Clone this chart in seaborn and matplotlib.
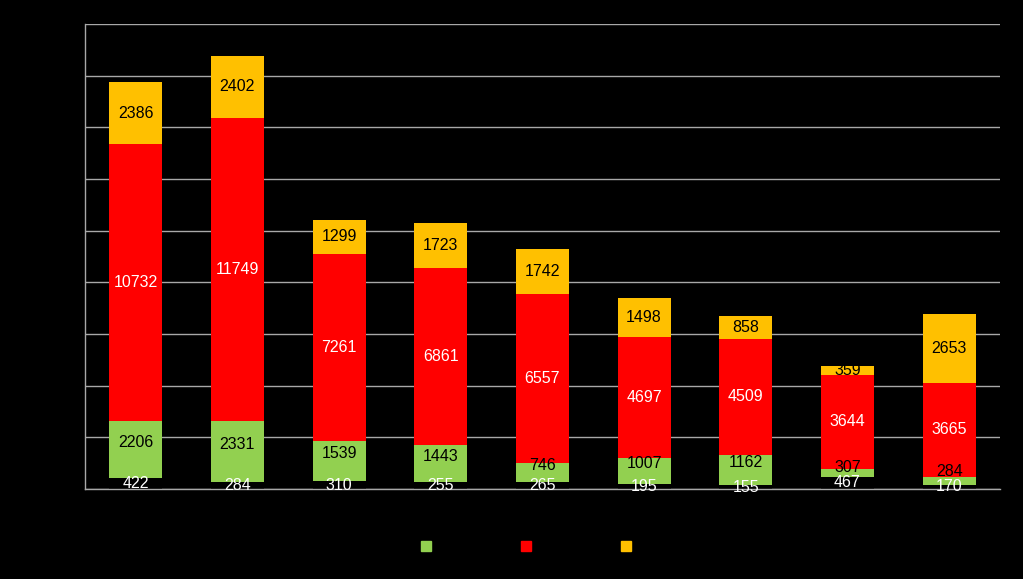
import numpy as np
import pandas as pd
import matplotlib
matplotlib.use("Agg")
import matplotlib.pyplot as plt
import seaborn as sns
from matplotlib.lines import Line2D

categories = ["1", "2", "3", "4", "5", "6", "7", "8", "9"]
base = [422, 284, 310, 255, 265, 195, 155, 467, 170]
green = [2206, 2331, 1539, 1443, 746, 1007, 1162, 307, 284]
red = [10732, 11749, 7261, 6861, 6557, 4697, 4509, 3644, 3665]
orange = [2386, 2402, 1299, 1723, 1742, 1498, 858, 359, 2653]

df = pd.DataFrame({"cat": categories, "base": base, "green": green,
                   "red": red, "orange": orange})
df["c_base"] = df["base"]
df["c_green"] = df["c_base"] + df["green"]
df["c_red"] = df["c_green"] + df["red"]
df["c_orange"] = df["c_red"] + df["orange"]

sns.set_style("dark")
plt.rcParams["font.family"] = ["Liberation Sans", "DejaVu Sans"]

fig = plt.figure(figsize=(10.23, 5.79), dpi=100, facecolor="black")
ax = fig.add_axes([0.083, 0.1554, 0.8945, 0.8031])
ax.set_facecolor("black")

layers = [("c_orange", "#FFC000"), ("c_red", "#FF0000"),
          ("c_green", "#92D050"), ("c_base", "black")]
for col, c in layers:
    sns.barplot(data=df, x="cat", y=col, color=c, width=0.52,
                saturation=1, linewidth=0, edgecolor="none", ax=ax, zorder=2)

# data labels, roughly centred, pushed up if they would collide
parts = [("base", "white", 0), ("green", "black", 280),
         ("red", "white", 0), ("orange", "black", 0)]
for i in range(len(categories)):
    bottom = 0
    last_y = -1e9
    for name, tc, off in parts:
        v = df[name][i]
        y = bottom + v / 2 + (off if v > 600 else 0)
        if y - last_y < 600:
            y = last_y + 600
        ax.text(i, y, str(v), ha="center", va="center", color=tc,
                fontsize=11.5, zorder=3)
        last_y = y
        bottom += v

ax.set_xlim(-0.5, 8.5)
ax.set_ylim(0, 18000)
ax.set_yticks(np.arange(0, 18001, 2000))
ax.grid(axis="y", color="#a8a8a8", linewidth=1)
ax.grid(axis="x", visible=False)
ax.set_axisbelow(True)
ax.set_xlabel("")
ax.set_ylabel("")
ax.set_xticks(np.arange(-0.5, 9, 1), minor=True)
ax.tick_params(axis="x", which="major", length=0, labelcolor="black")
ax.tick_params(axis="x", which="minor", length=5, color="#a8a8a8", direction="out")
ax.tick_params(axis="y", length=5, color="#a8a8a8", direction="out", labelcolor="black")
for s in ["top", "right"]:
    ax.spines[s].set_visible(False)
for s in ["left", "bottom"]:
    ax.spines[s].set_color("#a8a8a8")
    ax.spines[s].set_linewidth(1)

handles = [Line2D([], [], marker="s", linestyle="", markersize=7, color=c)
           for c in ["#92D050", "#FF0000", "#FFC000"]]
fig.legend(handles, ["", "", ""], loc="center", bbox_to_anchor=(0.514, 0.055),
           ncol=3, frameon=False, handlelength=0.8, handletextpad=0,
           columnspacing=6.4, fontsize=10, labelcolor="black")

fig.savefig("out.png", dpi=100, facecolor="black")
